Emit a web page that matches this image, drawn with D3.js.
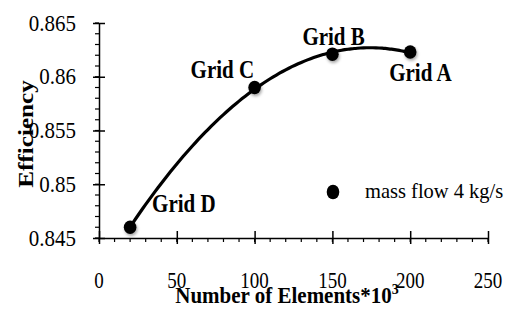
<!DOCTYPE html>
<html>
<head>
<meta charset="utf-8">
<script src="https://cdn.jsdelivr.net/npm/d3@7"></script>
<style>
  body { margin: 0; background: #fff; }
  text { font-family: "Liberation Serif", "Times New Roman", serif; fill: #000; }
</style>
</head>
<body>
<div id="chart"></div>
<script>
// data
const gridNames = ["Grid D", "Grid C", "Grid B", "Grid A"];
const elements = [20, 100, 150, 200];
const efficiency = [0.846, 0.859, 0.8621, 0.8623];
const xTicks = [0, 50, 100, 150, 200, 250];
const yTicks = [0.845, 0.85, 0.855, 0.86, 0.865];
const legendLabel = "mass flow 4 kg/s";

const serif = "'Liberation Serif', 'Times New Roman', serif";
const width = 508;
const height = 315;
const margin = { left: 99, right: 20, top: 23, bottom: 77 };

const x = d3.scaleLinear().domain([0, 250]).range([margin.left, width - margin.right]);
const y = d3.scaleLinear().domain([0.845, 0.865]).range([height - margin.bottom, margin.top]);

const points = elements.map((e, i) => ({ name: gridNames[i], x: e, y: efficiency[i] }));

const svg = d3.select("#chart").append("svg")
  .attr("width", width)
  .attr("height", height);

const defs = svg.append("defs");
defs.append("filter").attr("id", "shadow")
  .attr("x", "-50%").attr("y", "-50%").attr("width", "200%").attr("height", "200%")
  .append("feDropShadow")
  .attr("dx", 1).attr("dy", 2).attr("stdDeviation", 1.5)
  .attr("flood-color", "#000").attr("flood-opacity", 0.35);

// the source figure's text is a bit stretched vertically
const addText = (g, tx, ty, str, size, sy, opts = {}) => {
  const t = g.append("text")
    .attr("transform", `translate(${tx},${ty}) ${opts.rotate ? "rotate(-90) scale(" + sy + ",1)" : "scale(1," + sy + ")"}`)
    .attr("font-family", serif)
    .attr("font-size", size)
    .attr("text-anchor", opts.anchor || "start")
    .attr("font-weight", opts.bold ? "bold" : "normal");
  t.text(str);
  return t;
};

/* axes */
const xAxisY = y(0.845);
const yAxisX = x(0);

// minor ticks
const xMinor = d3.range(0, 251, 10);
svg.append("g").selectAll("line").data(xMinor).join("line")
  .attr("x1", d => x(d)).attr("x2", d => x(d))
  .attr("y1", xAxisY).attr("y2", xAxisY + 4)
  .attr("stroke", "#000").attr("stroke-width", 1.2);
const yMinor = d3.range(0, 21).map(i => 0.845 + i * 0.001);
svg.append("g").selectAll("line").data(yMinor).join("line")
  .attr("x1", yAxisX - 4).attr("x2", yAxisX)
  .attr("y1", d => y(d)).attr("y2", d => y(d))
  .attr("stroke", "#000").attr("stroke-width", 1.2);

const xAxis = svg.append("g")
  .attr("transform", `translate(0,${xAxisY})`)
  .call(d3.axisBottom(x).tickValues(xTicks).tickSize(0).tickFormat(""));
xAxis.select(".domain").attr("stroke-width", 1.5);
xAxis.selectAll(".tick").append("line")
  .attr("y1", -7).attr("y2", 6).attr("stroke", "#000").attr("stroke-width", 1.5);

const yAxis = svg.append("g")
  .attr("transform", `translate(${yAxisX},0)`)
  .call(d3.axisLeft(y).tickValues(yTicks).tickSize(0).tickFormat(""));
yAxis.select(".domain").attr("stroke-width", 1.5);
yAxis.selectAll(".tick").append("line")
  .attr("x1", -6).attr("x2", 6).attr("stroke", "#000").attr("stroke-width", 1.5);

// tick labels
const labels = svg.append("g");
xTicks.forEach(d => addText(labels, x(d), 288, d3.format("d")(d), 19, 1.2, { anchor: "middle" }));
yTicks.forEach(d => addText(labels, 76, y(d) + 7.5, String(+d.toFixed(3)), 21, 1.12, { anchor: "end" }));

/* quadratic trend line through the points (least squares) */
const fitQuadratic = (xs, ys) => {
  const n = xs.length;
  const s = k => d3.sum(xs, v => Math.pow(v, k));
  const t = k => d3.sum(xs, (v, i) => Math.pow(v, k) * ys[i]);
  const A = [[n, s(1), s(2)], [s(1), s(2), s(3)], [s(2), s(3), s(4)]];
  const b = [t(0), t(1), t(2)];
  for (let i = 0; i < 3; i++) {
    for (let j = i + 1; j < 3; j++) {
      const f = A[j][i] / A[i][i];
      for (let k = i; k < 3; k++) A[j][k] -= f * A[i][k];
      b[j] -= f * b[i];
    }
  }
  const c = [0, 0, 0];
  for (let i = 2; i >= 0; i--) {
    let v = b[i];
    for (let k = i + 1; k < 3; k++) v -= A[i][k] * c[k];
    c[i] = v / A[i][i];
  }
  return v => c[0] + c[1] * v + c[2] * v * v;
};
const trend = fitQuadratic(elements, efficiency);
const trendPts = d3.range(elements[0], elements[elements.length - 1] + 0.01, 2)
  .map(v => ({ x: v, y: trend(v) }));

const line = d3.line()
  .curve(d3.curveBasis)
  .x(d => x(d.x))
  .y(d => y(d.y));

svg.append("path")
  .datum(trendPts)
  .attr("d", line)
  .attr("fill", "none")
  .attr("stroke", "#000")
  .attr("stroke-width", 3.2);

svg.append("g").selectAll("ellipse").data(points).join("ellipse")
  .attr("cx", d => x(d.x))
  .attr("cy", d => y(d.y))
  .attr("rx", 6.3)
  .attr("ry", 6.8)
  .attr("fill", "#000")
  .attr("filter", "url(#shadow)");

/* point labels */
const labelOffset = {
  "Grid D": [22, -15],
  "Grid C": [-64, -10],
  "Grid B": [-30, -9.5],
  "Grid A": [-21, 29]
};
const ptLabels = svg.append("g");
points.forEach(d => addText(ptLabels, x(d.x) + labelOffset[d.name][0], y(d.y) + labelOffset[d.name][1],
  d.name, 21, 1.22, { bold: true }));

/* legend */
svg.append("ellipse")
  .attr("cx", 333).attr("cy", 192).attr("rx", 6.3).attr("ry", 7.3).attr("fill", "#000");
addText(svg, 365, 198, legendLabel, 20.5, 1.05);

/* axis titles */
const xTitle = svg.append("text")
  .attr("transform", "translate(287,303) scale(1,1.08)")
  .attr("text-anchor", "middle")
  .attr("font-family", serif)
  .attr("font-size", 21)
  .attr("font-weight", "bold");
xTitle.append("tspan").text("Number of Elements*10");
xTitle.append("tspan").attr("dy", -8).attr("font-size", 14).text("3");

addText(svg, 33, 134, "Efficiency", 21, 1.2, { rotate: true, bold: true, anchor: "middle" });
</script>
</body>
</html>
